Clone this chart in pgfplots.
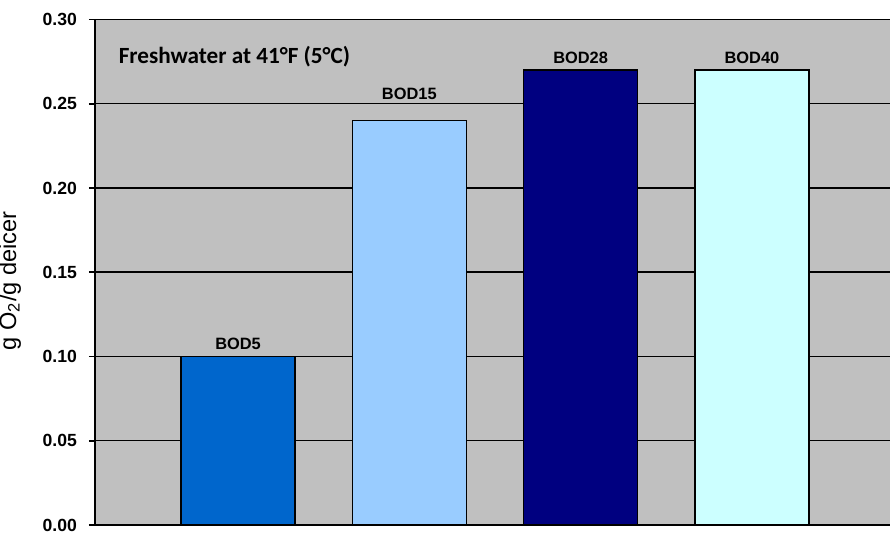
\documentclass[border=0pt]{standalone}
\usepackage{pgfplots}
\pgfplotsset{compat=1.18}
\usepackage{fontspec}
\setmainfont{Liberation Sans}
\newfontfamily\titlefont{Carlito}
\definecolor{bgray}{HTML}{C0C0C0}
\definecolor{bodA}{HTML}{0066CC}
\definecolor{bodB}{HTML}{99CCFF}
\definecolor{bodC}{HTML}{000080}
\definecolor{bodD}{HTML}{CCFFFF}
\begin{document}
\begin{tikzpicture}
  % 1 px of the reference = 0.5pt
  \useasboundingbox (0,0) rectangle (445pt,267.5pt);
  \begin{axis}[
    at={(47.5pt,5pt)}, anchor=south west,
    scale only axis,
    width=397.5pt, height=252.75pt,
    axis background/.style={fill=bgray},
    axis lines=left,
    axis line style={-, line width=0.8pt},
    xmin=0.165, xmax=4.806,
    ymin=0, ymax=0.30,
    xtick=\empty,
    ytick={0,0.05,...,0.30},
    /pgf/number format/fixed,
    /pgf/number format/fixed zerofill,
    /pgf/number format/precision=2,
    /pgf/number format/assume math mode=true,
    yticklabel style={font=\fontsize{8.8}{10}\selectfont\bfseries, xshift=-2.5pt},
    tick align=outside,
    major tick length=3pt,
    tick style={black, line width=0.8pt},
    ymajorgrids,
    grid style={black, line width=0.75pt},
    ylabel={g O\textsubscript{2}/g deicer},
    ylabel style={font=\fontsize{11.8}{13}\selectfont, at={(ticklabel cs:0.483)}, yshift=4pt},
    ybar, bar shift=0pt, bar width=57pt,
    every axis plot/.append style={draw=black, line width=0.75pt},
    nodes near coords style={font=\fontsize{8.2}{9}\selectfont\bfseries, text=black, inner sep=3pt},
  ]
    \addplot[fill=bodA, nodes near coords={BOD5}] coordinates {(1,0.10)};
    \addplot[fill=bodB, nodes near coords={BOD15},
      nodes near coords style={yshift=7pt}] coordinates {(2,0.24)};
    \addplot[fill=bodC, nodes near coords={BOD28}] coordinates {(3,0.27)};
    \addplot[fill=bodD, nodes near coords={BOD40}] coordinates {(4,0.27)};
    \node[anchor=west, font=\titlefont\fontsize{11.6}{13}\selectfont\bfseries] at (rel axis cs:0.021,0.926) {Freshwater at 41°F (5°C)};
  \end{axis}
\end{tikzpicture}
\end{document}
